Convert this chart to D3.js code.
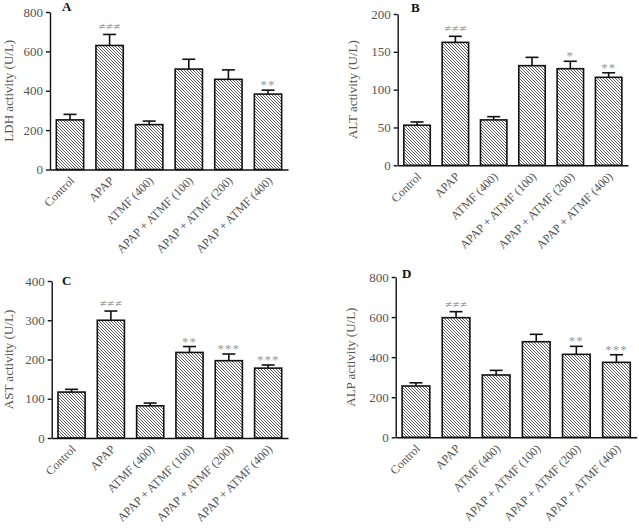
<!DOCTYPE html>
<html>
<head>
<meta charset="utf-8">
<script src="https://cdn.jsdelivr.net/npm/d3@7"></script>
<style>
  body { margin: 0; background: #fff; }
  svg { display: block; }
</style>
</head>
<body>
<svg id="chart" width="639" height="530"></svg>
<script>
const categories = ["Control", "APAP", "ATMF (400)", "APAP + ATMF (100)", "APAP + ATMF (200)", "APAP + ATMF (400)"];

const ldhMean = [252, 630, 228, 510, 458, 383];
const ldhErr  = [28, 56, 18, 50, 48, 20];
const ldhSig  = ["", "≠≠≠", "", "", "", "**"];
const ldhTicks = [0, 200, 400, 600, 800];

const altMean = [53, 162.5, 60, 131.7, 127.7, 116.3];
const altErr  = [4.3, 8, 4.3, 11, 9.8, 6];
const altSig  = ["", "≠≠≠", "", "", "*", "**"];
const altTicks = [0, 50, 100, 150, 200];

const astMean = [117, 300, 82, 218, 197, 178];
const astErr  = [7, 23.5, 7, 15, 17, 8];
const astSig  = ["", "≠≠≠", "", "**", "***", "***"];
const astTicks = [0, 100, 200, 300, 400];

const alpMean = [256, 597, 311, 477, 414, 374];
const alpErr  = [16, 30, 23, 37, 40, 38];
const alpSig  = ["", "≠≠≠", "", "", "**", "***"];
const alpTicks = [0, 200, 400, 600, 800];

const panels = [
  {letter: "A", title: "LDH activity (U/L)", mean: ldhMean, err: ldhErr, sig: ldhSig, ticks: ldhTicks,
   x0: 50, x1: 288, yTop: 12, yBot: 169.5, titleX: 13, letterX: 62, letterY: 11},
  {letter: "B", title: "ALT activity (U/L)", mean: altMean, err: altErr, sig: altSig, ticks: altTicks,
   x0: 397.7, x1: 628, yTop: 14, yBot: 165.3, titleX: 357, letterX: 411, letterY: 12},
  {letter: "C", title: "AST activity (U/L)", mean: astMean, err: astErr, sig: astSig, ticks: astTicks,
   x0: 51.7, x1: 288, yTop: 281, yBot: 438, titleX: 13, letterX: 62, letterY: 285},
  {letter: "D", title: "ALP activity (U/L)", mean: alpMean, err: alpErr, sig: alpSig, ticks: alpTicks,
   x0: 395.7, x1: 636.7, yTop: 277, yBot: 437.3, titleX: 355, letterX: 402, letterY: 278}
];

const svg = d3.select("#chart");

const defs = svg.append("defs");
const pat = defs.append("pattern")
  .attr("id", "hatch").attr("patternUnits", "userSpaceOnUse")
  .attr("width", 3).attr("height", 3);
pat.append("rect").attr("width", 3).attr("height", 3).attr("fill", "#fff");
pat.append("path").attr("d", "M-1,-1 L4,4 M-1,2 L1,4 M2,-1 L4,1")
  .attr("stroke", "#444").attr("stroke-width", 0.85);

const serif = "'Liberation Serif', 'Times New Roman', Times, serif";
const grayText = "#555";

panels.forEach(p => {
  const x = d3.scaleBand().domain(categories).range([p.x0, p.x1]).paddingInner(0.31).paddingOuter(0.16);
  const ymax = p.ticks[p.ticks.length - 1];
  const y = d3.scaleLinear().domain([0, ymax]).range([p.yBot, p.yTop]);
  const g = svg.append("g");

  const rows = categories.map((c, i) => ({c, m: p.mean[i], e: p.err[i], s: p.sig[i]}));
  rows.forEach(r => {
    const cx = x(r.c) + x.bandwidth() / 2;
    g.append("line").attr("x1", cx).attr("x2", cx)
      .attr("y1", y(r.m)).attr("y2", y(r.m + r.e))
      .attr("stroke", "#111").attr("stroke-width", 1.6);
    g.append("line").attr("x1", cx - 6.5).attr("x2", cx + 6.5)
      .attr("y1", y(r.m + r.e)).attr("y2", y(r.m + r.e))
      .attr("stroke", "#111").attr("stroke-width", 1.6);
    if (r.s) {
      const ne = r.s.startsWith("≠");
      g.append("text").attr("x", cx).attr("y", y(r.m + r.e) - 5)
        .attr("text-anchor", "middle")
        .attr("font-family", ne ? "'DejaVu Sans', sans-serif" : serif)
        .attr("font-size", ne ? 9 : 13)
        .attr("letter-spacing", ne ? 0 : 1)
        .attr("fill", "#999")
        .attr("dy", ne ? 0 : 4)
        .text(r.s);
    }
  });
  g.selectAll("rect.bar").data(rows).join("rect").attr("class", "bar")
    .attr("x", d => x(d.c)).attr("width", x.bandwidth())
    .attr("y", d => y(d.m)).attr("height", d => y(0) - y(d.m))
    .attr("fill", "url(#hatch)").attr("stroke", "#111").attr("stroke-width", 1.6);

  const ya = g.append("g").attr("transform", `translate(${p.x0},0)`)
    .call(d3.axisLeft(y).tickValues(p.ticks).tickSize(4).tickPadding(3).tickSizeOuter(0));
  ya.select(".domain").attr("stroke", "#111").attr("stroke-width", 1.4);
  ya.selectAll(".tick line").attr("stroke", "#111").attr("stroke-width", 1.4);
  ya.selectAll("text").attr("font-family", serif).attr("font-size", 13).attr("fill", grayText);

  const xa = g.append("g").attr("transform", `translate(0,${p.yBot})`)
    .call(d3.axisBottom(x).tickSize(0).tickPadding(0).tickSizeOuter(0));
  xa.select(".domain").attr("stroke", "#111").attr("stroke-width", 1.6);
  xa.selectAll(".tick text")
    .attr("font-family", serif).attr("font-size", 12).attr("fill", grayText)
    .attr("text-anchor", "end")
    .attr("x", 0).attr("y", 0).attr("dy", 0)
    .attr("transform", "translate(5,12) rotate(-45)");

  g.append("text")
    .attr("transform", `translate(${p.titleX},${(p.yTop + p.yBot) / 2}) rotate(-90)`)
    .attr("text-anchor", "middle")
    .attr("font-family", serif).attr("font-size", 13).attr("fill", grayText)
    .text(p.title);

  g.append("text").attr("x", p.letterX).attr("y", p.letterY)
    .attr("font-family", serif).attr("font-size", 13).attr("font-weight", "bold").attr("fill", "#111")
    .text(p.letter);
});
</script>
</body>
</html>
